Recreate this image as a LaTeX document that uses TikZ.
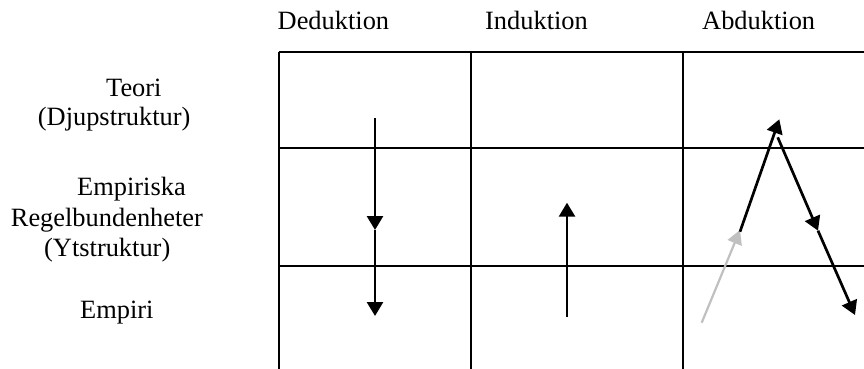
\documentclass[tikz,border=0pt]{standalone}
\usepackage{fontspec}
\setmainfont{Liberation Serif}
\usetikzlibrary{arrows.meta}
\begin{document}
\begin{tikzpicture}[x=1pt,y=-1pt,
  lbl/.style={inner sep=0pt,anchor=base west,font=\fontsize{26.4}{30}\selectfont},
  gridline/.style={line width=2pt,black},
  arr/.style={line width=2.7pt,black,-{Triangle[width=16pt,length=14pt]}},
  greyarr/.style={line width=2.2pt,color={rgb,255:red,192;green,192;blue,192},-{Triangle[width=15pt,length=14pt]}}]
\useasboundingbox (0,0) rectangle (864,369);
% header labels
\node[lbl] (ded) at (277.5,30) {Deduktion};
\node[lbl] (ind) at (485,30) {Induktion};
\node[lbl] (abd) at (702,30) {Abduktion};
% row labels
\node[lbl] (teori) at (106,96.7) {Teori};
\node[lbl] (djup) at (37.7,125) {(Djupstruktur)};
\node[lbl] (emp) at (77,195) {Empiriska};
\node[lbl] (regel) at (10.7,226) {Regelbundenheter};
\node[lbl] (yt) at (44,256) {(Ytstruktur)};
\node[lbl] (empiri) at (80,318) {Empiri};
% grid
\coordinate (gtl) at (278.5,51.7);
\coordinate (gtr) at (864,51.7);
\coordinate (g1l) at (278.5,148.3);
\coordinate (g1r) at (864,148.3);
\coordinate (g2l) at (278.5,265.7);
\coordinate (g2r) at (864,265.7);
\coordinate (v0t) at (278.5,51.7);
\coordinate (v0b) at (278.5,369);
\coordinate (v1t) at (470.7,51.7);
\coordinate (v1b) at (470.7,369);
\coordinate (v2t) at (682.7,51.7);
\coordinate (v2b) at (682.7,369);
\draw[gridline] (gtl) -- (gtr);
\draw[gridline] (g1l) -- (g1r);
\draw[gridline] (g2l) -- (g2r);
\draw[gridline] (v0t) -- (v0b);
\draw[gridline] (v1t) -- (v1b);
\draw[gridline] (v2t) -- (v2b);
% deduction
\coordinate (d1) at (375,118.3);
\coordinate (d2) at (375,230);
\coordinate (d3) at (375,316);
\draw[arr] (d1) -- (d2);
\draw[arr] (d2) -- (d3);
% induction
\coordinate (i1) at (567,316.7);
\coordinate (i2) at (567,202.7);
\draw[arr] (i1) -- (i2);
% abduction
\coordinate (a0) at (701.7,322.7);
\coordinate (a1) at (740,230);
\coordinate (a1b) at (740,231.7);
\coordinate (a2) at (779.3,119.3);
\coordinate (a3) at (777.7,137.3);
\coordinate (a4) at (818,230.7);
\coordinate (a5) at (855,315);
\draw[greyarr] (a0) -- (a1);
\draw[arr] (a1b) -- (a2);
\draw[arr] (a3) -- (a4);
\draw[arr] (a4) -- (a5);
\end{tikzpicture}
\end{document}
